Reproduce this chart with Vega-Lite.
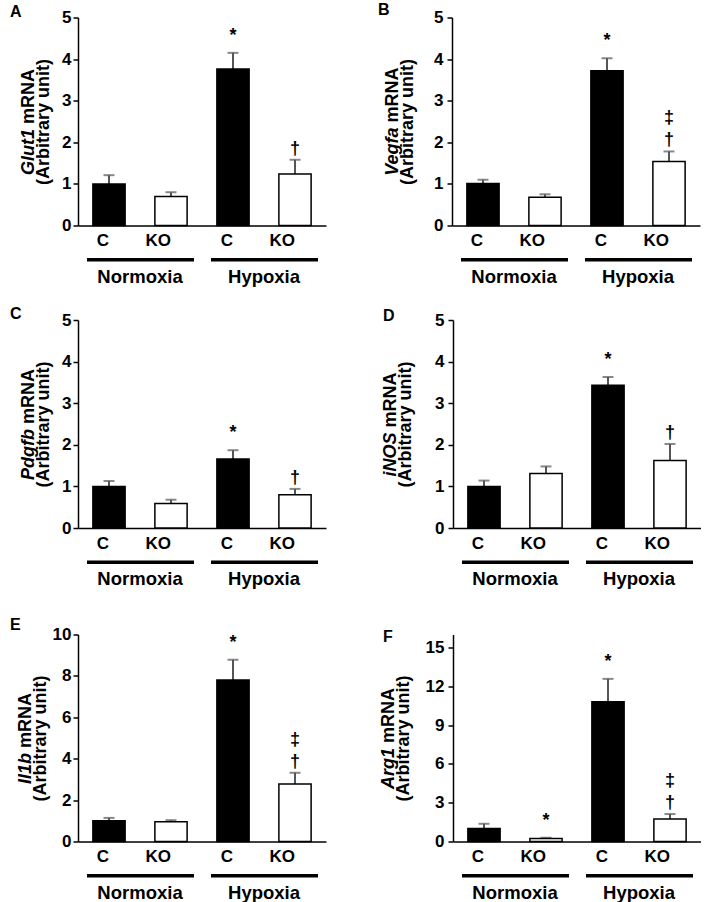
{
  "$schema": "https://vega.github.io/schema/vega-lite/v6.json",
  "padding": {"left": 10, "top": 1.5, "right": 0, "bottom": 0},
  "datasets": {
    "d": [
      {"panel": "A", "cond": "N-C", "geno": "C", "group": "Normoxia", "mean": 1.0, "upper": 1.21},
      {"panel": "A", "cond": "N-KO", "geno": "KO", "group": "Normoxia", "mean": 0.7, "upper": 0.8},
      {"panel": "A", "cond": "H-C", "geno": "C", "group": "Hypoxia", "mean": 3.76, "upper": 4.15, "star": "*"},
      {"panel": "A", "cond": "H-KO", "geno": "KO", "group": "Hypoxia", "mean": 1.24, "upper": 1.58, "dag": "†"},
      {"panel": "B", "cond": "N-C", "geno": "C", "group": "Normoxia", "mean": 1.01, "upper": 1.1},
      {"panel": "B", "cond": "N-KO", "geno": "KO", "group": "Normoxia", "mean": 0.68, "upper": 0.75},
      {"panel": "B", "cond": "H-C", "geno": "C", "group": "Hypoxia", "mean": 3.72, "upper": 4.02, "star": "*"},
      {"panel": "B", "cond": "H-KO", "geno": "KO", "group": "Hypoxia", "mean": 1.54, "upper": 1.78, "dag": "†", "ddag": "‡"},
      {"panel": "C", "cond": "N-C", "geno": "C", "group": "Normoxia", "mean": 1.0, "upper": 1.13},
      {"panel": "C", "cond": "N-KO", "geno": "KO", "group": "Normoxia", "mean": 0.59, "upper": 0.68},
      {"panel": "C", "cond": "H-C", "geno": "C", "group": "Hypoxia", "mean": 1.66, "upper": 1.87, "star": "*"},
      {"panel": "C", "cond": "H-KO", "geno": "KO", "group": "Hypoxia", "mean": 0.8, "upper": 0.94, "dag": "†"},
      {"panel": "D", "cond": "N-C", "geno": "C", "group": "Normoxia", "mean": 1.0, "upper": 1.14},
      {"panel": "D", "cond": "N-KO", "geno": "KO", "group": "Normoxia", "mean": 1.31, "upper": 1.48},
      {"panel": "D", "cond": "H-C", "geno": "C", "group": "Hypoxia", "mean": 3.43, "upper": 3.63, "star": "*"},
      {"panel": "D", "cond": "H-KO", "geno": "KO", "group": "Hypoxia", "mean": 1.62, "upper": 2.02, "dag": "†"},
      {"panel": "E", "cond": "N-C", "geno": "C", "group": "Normoxia", "mean": 1.0, "upper": 1.14},
      {"panel": "E", "cond": "N-KO", "geno": "KO", "group": "Normoxia", "mean": 0.96, "upper": 1.03},
      {"panel": "E", "cond": "H-C", "geno": "C", "group": "Hypoxia", "mean": 7.8, "upper": 8.78, "star": "*"},
      {"panel": "E", "cond": "H-KO", "geno": "KO", "group": "Hypoxia", "mean": 2.78, "upper": 3.32, "dag": "†", "ddag": "‡"},
      {"panel": "F", "cond": "N-C", "geno": "C", "group": "Normoxia", "mean": 1.01, "upper": 1.37},
      {"panel": "F", "cond": "N-KO", "geno": "KO", "group": "Normoxia", "mean": 0.24, "upper": 0.29, "star": "*"},
      {"panel": "F", "cond": "H-C", "geno": "C", "group": "Hypoxia", "mean": 10.81, "upper": 12.57, "star": "*"},
      {"panel": "F", "cond": "H-KO", "geno": "KO", "group": "Hypoxia", "mean": 1.73, "upper": 2.12, "dag": "†", "ddag": "‡"}
    ]
  },
  "data": {"name": "d"},
  "spacing": -1,
  "vconcat": [
    {
      "spacing": -9.5,
      "vconcat": [
        {
          "spacing": 52,
          "hconcat": [
            {
              "width": 248, "height": 208,
              "title": {"text": "A", "dx": -68, "dy": 15.5},
              "transform": [{"filter": "datum.panel == 'A'"}],
              "layer": [
                {"layer": [
                  {"mark": {"type": "rule", "color": "#555555", "strokeWidth": 2},
                   "encoding": {"x": {"field": "cond", "type": "nominal", "sort": ["N-C", "N-KO", "H-C", "H-KO"]},
                                "y": {"field": "mean", "type": "quantitative", "axis": {"orient": "left", "title": "Glut1", "titleFontStyle": "italic", "labels": false, "ticks": false, "domain": false, "titleX": -41, "titleY": 111, "titleAngle": -90, "titleAlign": "right", "titleBaseline": "bottom"}},
                                "y2": {"field": "upper"}}},
                  {"mark": {"type": "tick", "orient": "horizontal", "color": "#555555", "thickness": 2, "size": 11},
                   "encoding": {"x": {"field": "cond", "type": "nominal", "sort": ["N-C", "N-KO", "H-C", "H-KO"]},
                                "y": {"field": "upper", "type": "quantitative", "axis": {"orient": "left", "title": "mRNA", "labels": false, "ticks": false, "domain": false, "titleX": -41, "titleY": 106, "titleAngle": -90, "titleAlign": "left", "titleBaseline": "bottom"}}}},
                  {"mark": {"type": "bar", "stroke": "black", "strokeWidth": 1.5},
                   "encoding": {
                     "x": {"field": "cond", "type": "nominal", "sort": ["N-C", "N-KO", "H-C", "H-KO"], "scale": {"paddingInner": 0.48, "paddingOuter": 0.24},
                           "axis": {"title": null, "labelExpr": "split(datum.label, '-')[1]", "ticks": false, "domainWidth": 1.5, "labelFontSize": 17, "labelPadding": 15, "labelAngle": 0}},
                     "y": {"field": "mean", "type": "quantitative", "scale": {"domain": [0, 5]},
                           "axis": {"orient": "left", "title": "(Arbitrary unit)", "values": [0, 1, 2, 3, 4, 5], "labelPadding": 2, "titleX": -26, "titleY": 104, "titleAngle": -90, "titleAlign": "center", "titleBaseline": "bottom"}},
                     "fill": {"field": "geno", "type": "nominal", "scale": {"domain": ["C", "KO"], "range": ["black", "white"]}, "legend": null}
                   }},
                  {"transform": [{"filter": "datum.star"}], "mark": {"type": "text", "baseline": "bottom", "dy": -8, "fontSize": 18, "fontWeight": "bold"},
                   "encoding": {"x": {"field": "cond", "type": "nominal", "sort": ["N-C", "N-KO", "H-C", "H-KO"]}, "y": {"field": "upper", "type": "quantitative", "axis": null}, "text": {"field": "star"}}},
                  {"transform": [{"filter": "datum.dag"}], "mark": {"type": "text", "baseline": "bottom", "dy": -2, "fontSize": 18, "fontWeight": "bold"},
                   "encoding": {"x": {"field": "cond", "type": "nominal", "sort": ["N-C", "N-KO", "H-C", "H-KO"]}, "y": {"field": "upper", "type": "quantitative", "axis": null}, "text": {"field": "dag"}}}
                ], "resolve": {"axis": {"y": "independent"}}},
                {"mark": {"type": "bar", "opacity": 0},
                 "encoding": {
                   "x": {"field": "group", "type": "nominal", "sort": ["Normoxia", "Hypoxia"], "scale": {"paddingInner": 0, "paddingOuter": 0},
                         "axis": {"orient": "bottom", "offset": 32, "domain": false, "tickSize": 3.5, "tickWidth": 107, "tickCap": "butt", "labelFontSize": 18.5, "labelPadding": 6, "title": null, "labelAngle": 0}},
                   "y": {"field": "mean", "type": "quantitative", "axis": null}
                 }}
              ],
              "resolve": {"scale": {"x": "independent"}, "axis": {"x": "independent"}}
            },
            {
              "width": 248, "height": 208,
              "title": {"text": "B", "dx": -74, "dy": 15.5},
              "transform": [{"filter": "datum.panel == 'B'"}],
              "layer": [
                {"layer": [
                  {"mark": {"type": "rule", "color": "#555555", "strokeWidth": 2},
                   "encoding": {"x": {"field": "cond", "type": "nominal", "sort": ["N-C", "N-KO", "H-C", "H-KO"]},
                                "y": {"field": "mean", "type": "quantitative", "axis": {"orient": "left", "title": "Vegfa", "titleFontStyle": "italic", "labels": false, "ticks": false, "domain": false, "titleX": -51, "titleY": 109.5, "titleAngle": -90, "titleAlign": "right", "titleBaseline": "bottom"}},
                                "y2": {"field": "upper"}}},
                  {"mark": {"type": "tick", "orient": "horizontal", "color": "#555555", "thickness": 2, "size": 11},
                   "encoding": {"x": {"field": "cond", "type": "nominal", "sort": ["N-C", "N-KO", "H-C", "H-KO"]},
                                "y": {"field": "upper", "type": "quantitative", "axis": {"orient": "left", "title": "mRNA", "labels": false, "ticks": false, "domain": false, "titleX": -51, "titleY": 104.5, "titleAngle": -90, "titleAlign": "left", "titleBaseline": "bottom"}}}},
                  {"mark": {"type": "bar", "stroke": "black", "strokeWidth": 1.5},
                   "encoding": {
                     "x": {"field": "cond", "type": "nominal", "sort": ["N-C", "N-KO", "H-C", "H-KO"], "scale": {"paddingInner": 0.48, "paddingOuter": 0.24},
                           "axis": {"title": null, "labelExpr": "split(datum.label, '-')[1]", "ticks": false, "domainWidth": 1.5, "labelFontSize": 17, "labelPadding": 15, "labelAngle": 0}},
                     "y": {"field": "mean", "type": "quantitative", "scale": {"domain": [0, 5]},
                           "axis": {"orient": "left", "title": "(Arbitrary unit)", "values": [0, 1, 2, 3, 4, 5], "labelPadding": 4, "titleX": -36, "titleY": 104, "titleAngle": -90, "titleAlign": "center", "titleBaseline": "bottom"}},
                     "fill": {"field": "geno", "type": "nominal", "scale": {"domain": ["C", "KO"], "range": ["black", "white"]}, "legend": null}
                   }},
                  {"transform": [{"filter": "datum.star"}], "mark": {"type": "text", "baseline": "bottom", "dy": -8, "fontSize": 18, "fontWeight": "bold"},
                   "encoding": {"x": {"field": "cond", "type": "nominal", "sort": ["N-C", "N-KO", "H-C", "H-KO"]}, "y": {"field": "upper", "type": "quantitative", "axis": null}, "text": {"field": "star"}}},
                  {"transform": [{"filter": "datum.dag"}], "mark": {"type": "text", "baseline": "bottom", "dy": -2, "fontSize": 18, "fontWeight": "bold"},
                   "encoding": {"x": {"field": "cond", "type": "nominal", "sort": ["N-C", "N-KO", "H-C", "H-KO"]}, "y": {"field": "upper", "type": "quantitative", "axis": null}, "text": {"field": "dag"}}},
                  {"transform": [{"filter": "datum.ddag"}], "mark": {"type": "text", "baseline": "bottom", "dy": -24, "fontSize": 18, "fontWeight": "bold"},
                   "encoding": {"x": {"field": "cond", "type": "nominal", "sort": ["N-C", "N-KO", "H-C", "H-KO"]}, "y": {"field": "upper", "type": "quantitative", "axis": null}, "text": {"field": "ddag"}}}
                ], "resolve": {"axis": {"y": "independent"}}},
                {"mark": {"type": "bar", "opacity": 0},
                 "encoding": {
                   "x": {"field": "group", "type": "nominal", "sort": ["Normoxia", "Hypoxia"], "scale": {"paddingInner": 0, "paddingOuter": 0},
                         "axis": {"orient": "bottom", "offset": 32, "domain": false, "tickSize": 3.5, "tickWidth": 107, "tickCap": "butt", "labelFontSize": 18.5, "labelPadding": 6, "title": null, "labelAngle": 0}},
                   "y": {"field": "mean", "type": "quantitative", "axis": null}
                 }}
              ],
              "resolve": {"scale": {"x": "independent"}, "axis": {"x": "independent"}}
            }
          ]
        },
        {
          "spacing": 55,
          "hconcat": [
            {
              "width": 248, "height": 208,
              "title": {"text": "C", "dx": -68, "dy": 14.5},
              "transform": [{"filter": "datum.panel == 'C'"}],
              "layer": [
                {"layer": [
                  {"mark": {"type": "rule", "color": "#555555", "strokeWidth": 2},
                   "encoding": {"x": {"field": "cond", "type": "nominal", "sort": ["N-C", "N-KO", "H-C", "H-KO"]},
                                "y": {"field": "mean", "type": "quantitative", "axis": {"orient": "left", "title": "Pdgfb", "titleFontStyle": "italic", "labels": false, "ticks": false, "domain": false, "titleX": -41, "titleY": 108.5, "titleAngle": -90, "titleAlign": "right", "titleBaseline": "bottom"}},
                                "y2": {"field": "upper"}}},
                  {"mark": {"type": "tick", "orient": "horizontal", "color": "#555555", "thickness": 2, "size": 11},
                   "encoding": {"x": {"field": "cond", "type": "nominal", "sort": ["N-C", "N-KO", "H-C", "H-KO"]},
                                "y": {"field": "upper", "type": "quantitative", "axis": {"orient": "left", "title": "mRNA", "labels": false, "ticks": false, "domain": false, "titleX": -41, "titleY": 103.5, "titleAngle": -90, "titleAlign": "left", "titleBaseline": "bottom"}}}},
                  {"mark": {"type": "bar", "stroke": "black", "strokeWidth": 1.5},
                   "encoding": {
                     "x": {"field": "cond", "type": "nominal", "sort": ["N-C", "N-KO", "H-C", "H-KO"], "scale": {"paddingInner": 0.48, "paddingOuter": 0.24},
                           "axis": {"title": null, "labelExpr": "split(datum.label, '-')[1]", "ticks": false, "domainWidth": 1.5, "labelFontSize": 17, "labelPadding": 15, "labelAngle": 0}},
                     "y": {"field": "mean", "type": "quantitative", "scale": {"domain": [0, 5]},
                           "axis": {"orient": "left", "title": "(Arbitrary unit)", "values": [0, 1, 2, 3, 4, 5], "labelPadding": 2, "titleX": -26, "titleY": 104, "titleAngle": -90, "titleAlign": "center", "titleBaseline": "bottom"}},
                     "fill": {"field": "geno", "type": "nominal", "scale": {"domain": ["C", "KO"], "range": ["black", "white"]}, "legend": null}
                   }},
                  {"transform": [{"filter": "datum.star"}], "mark": {"type": "text", "baseline": "bottom", "dy": -8, "fontSize": 18, "fontWeight": "bold"},
                   "encoding": {"x": {"field": "cond", "type": "nominal", "sort": ["N-C", "N-KO", "H-C", "H-KO"]}, "y": {"field": "upper", "type": "quantitative", "axis": null}, "text": {"field": "star"}}},
                  {"transform": [{"filter": "datum.dag"}], "mark": {"type": "text", "baseline": "bottom", "dy": -2, "fontSize": 18, "fontWeight": "bold"},
                   "encoding": {"x": {"field": "cond", "type": "nominal", "sort": ["N-C", "N-KO", "H-C", "H-KO"]}, "y": {"field": "upper", "type": "quantitative", "axis": null}, "text": {"field": "dag"}}}
                ], "resolve": {"axis": {"y": "independent"}}},
                {"mark": {"type": "bar", "opacity": 0},
                 "encoding": {
                   "x": {"field": "group", "type": "nominal", "sort": ["Normoxia", "Hypoxia"], "scale": {"paddingInner": 0, "paddingOuter": 0},
                         "axis": {"orient": "bottom", "offset": 32, "domain": false, "tickSize": 3.5, "tickWidth": 107, "tickCap": "butt", "labelFontSize": 18.5, "labelPadding": 6, "title": null, "labelAngle": 0}},
                   "y": {"field": "mean", "type": "quantitative", "axis": null}
                 }}
              ],
              "resolve": {"scale": {"x": "independent"}, "axis": {"x": "independent"}}
            },
            {
              "width": 248, "height": 208,
              "title": {"text": "D", "dx": -70, "dy": 16.5},
              "transform": [{"filter": "datum.panel == 'D'"}],
              "layer": [
                {"layer": [
                  {"mark": {"type": "rule", "color": "#555555", "strokeWidth": 2},
                   "encoding": {"x": {"field": "cond", "type": "nominal", "sort": ["N-C", "N-KO", "H-C", "H-KO"]},
                                "y": {"field": "mean", "type": "quantitative", "axis": {"orient": "left", "title": "iNOS", "titleFontStyle": "italic", "labels": false, "ticks": false, "domain": false, "titleX": -54, "titleY": 112, "titleAngle": -90, "titleAlign": "right", "titleBaseline": "bottom"}},
                                "y2": {"field": "upper"}}},
                  {"mark": {"type": "tick", "orient": "horizontal", "color": "#555555", "thickness": 2, "size": 11},
                   "encoding": {"x": {"field": "cond", "type": "nominal", "sort": ["N-C", "N-KO", "H-C", "H-KO"]},
                                "y": {"field": "upper", "type": "quantitative", "axis": {"orient": "left", "title": "mRNA", "labels": false, "ticks": false, "domain": false, "titleX": -54, "titleY": 107, "titleAngle": -90, "titleAlign": "left", "titleBaseline": "bottom"}}}},
                  {"mark": {"type": "bar", "stroke": "black", "strokeWidth": 1.5},
                   "encoding": {
                     "x": {"field": "cond", "type": "nominal", "sort": ["N-C", "N-KO", "H-C", "H-KO"], "scale": {"paddingInner": 0.48, "paddingOuter": 0.24},
                           "axis": {"title": null, "labelExpr": "split(datum.label, '-')[1]", "ticks": false, "domainWidth": 1.5, "labelFontSize": 17, "labelPadding": 15, "labelAngle": 0}},
                     "y": {"field": "mean", "type": "quantitative", "scale": {"domain": [0, 5]},
                           "axis": {"orient": "left", "title": "(Arbitrary unit)", "values": [0, 1, 2, 3, 4, 5], "labelPadding": 4, "titleX": -39, "titleY": 104, "titleAngle": -90, "titleAlign": "center", "titleBaseline": "bottom"}},
                     "fill": {"field": "geno", "type": "nominal", "scale": {"domain": ["C", "KO"], "range": ["black", "white"]}, "legend": null}
                   }},
                  {"transform": [{"filter": "datum.star"}], "mark": {"type": "text", "baseline": "bottom", "dy": -8, "fontSize": 18, "fontWeight": "bold"},
                   "encoding": {"x": {"field": "cond", "type": "nominal", "sort": ["N-C", "N-KO", "H-C", "H-KO"]}, "y": {"field": "upper", "type": "quantitative", "axis": null}, "text": {"field": "star"}}},
                  {"transform": [{"filter": "datum.dag"}], "mark": {"type": "text", "baseline": "bottom", "dy": -2, "fontSize": 18, "fontWeight": "bold"},
                   "encoding": {"x": {"field": "cond", "type": "nominal", "sort": ["N-C", "N-KO", "H-C", "H-KO"]}, "y": {"field": "upper", "type": "quantitative", "axis": null}, "text": {"field": "dag"}}}
                ], "resolve": {"axis": {"y": "independent"}}},
                {"mark": {"type": "bar", "opacity": 0},
                 "encoding": {
                   "x": {"field": "group", "type": "nominal", "sort": ["Normoxia", "Hypoxia"], "scale": {"paddingInner": 0, "paddingOuter": 0},
                         "axis": {"orient": "bottom", "offset": 32, "domain": false, "tickSize": 3.5, "tickWidth": 107, "tickCap": "butt", "labelFontSize": 18.5, "labelPadding": 6, "title": null, "labelAngle": 0}},
                   "y": {"field": "mean", "type": "quantitative", "axis": null}
                 }}
              ],
              "resolve": {"scale": {"x": "independent"}, "axis": {"x": "independent"}}
            }
          ]
        }
      ]
    },
    {
      "spacing": 53,
      "hconcat": [
        {
          "width": 248, "height": 207,
          "title": {"text": "E", "dx": -68, "dy": 14.5},
          "transform": [{"filter": "datum.panel == 'E'"}],
          "layer": [
            {"layer": [
              {"mark": {"type": "rule", "color": "#555555", "strokeWidth": 2},
               "encoding": {"x": {"field": "cond", "type": "nominal", "sort": ["N-C", "N-KO", "H-C", "H-KO"]},
                            "y": {"field": "mean", "type": "quantitative", "axis": {"orient": "left", "title": "Il1b", "titleFontStyle": "italic", "labels": false, "ticks": false, "domain": false, "titleX": -44, "titleY": 118, "titleAngle": -90, "titleAlign": "right", "titleBaseline": "bottom"}},
                            "y2": {"field": "upper"}}},
              {"mark": {"type": "tick", "orient": "horizontal", "color": "#555555", "thickness": 2, "size": 11},
               "encoding": {"x": {"field": "cond", "type": "nominal", "sort": ["N-C", "N-KO", "H-C", "H-KO"]},
                            "y": {"field": "upper", "type": "quantitative", "axis": {"orient": "left", "title": "mRNA", "labels": false, "ticks": false, "domain": false, "titleX": -44, "titleY": 113, "titleAngle": -90, "titleAlign": "left", "titleBaseline": "bottom"}}}},
              {"mark": {"type": "bar", "stroke": "black", "strokeWidth": 1.5},
               "encoding": {
                 "x": {"field": "cond", "type": "nominal", "sort": ["N-C", "N-KO", "H-C", "H-KO"], "scale": {"paddingInner": 0.48, "paddingOuter": 0.24},
                       "axis": {"title": null, "labelExpr": "split(datum.label, '-')[1]", "ticks": false, "domainWidth": 1.5, "labelFontSize": 17, "labelPadding": 15, "labelAngle": 0}},
                 "y": {"field": "mean", "type": "quantitative", "scale": {"domain": [0, 10]},
                       "axis": {"orient": "left", "title": "(Arbitrary unit)", "values": [0, 2, 4, 6, 8, 10], "labelPadding": 2, "titleX": -29, "titleY": 103.5, "titleAngle": -90, "titleAlign": "center", "titleBaseline": "bottom"}},
                 "fill": {"field": "geno", "type": "nominal", "scale": {"domain": ["C", "KO"], "range": ["black", "white"]}, "legend": null}
               }},
              {"transform": [{"filter": "datum.star"}], "mark": {"type": "text", "baseline": "bottom", "dy": -8, "fontSize": 18, "fontWeight": "bold"},
               "encoding": {"x": {"field": "cond", "type": "nominal", "sort": ["N-C", "N-KO", "H-C", "H-KO"]}, "y": {"field": "upper", "type": "quantitative", "axis": null}, "text": {"field": "star"}}},
              {"transform": [{"filter": "datum.dag"}], "mark": {"type": "text", "baseline": "bottom", "dy": -2, "fontSize": 18, "fontWeight": "bold"},
               "encoding": {"x": {"field": "cond", "type": "nominal", "sort": ["N-C", "N-KO", "H-C", "H-KO"]}, "y": {"field": "upper", "type": "quantitative", "axis": null}, "text": {"field": "dag"}}},
              {"transform": [{"filter": "datum.ddag"}], "mark": {"type": "text", "baseline": "bottom", "dy": -24, "fontSize": 18, "fontWeight": "bold"},
               "encoding": {"x": {"field": "cond", "type": "nominal", "sort": ["N-C", "N-KO", "H-C", "H-KO"]}, "y": {"field": "upper", "type": "quantitative", "axis": null}, "text": {"field": "ddag"}}}
            ], "resolve": {"axis": {"y": "independent"}}},
            {"mark": {"type": "bar", "opacity": 0},
             "encoding": {
               "x": {"field": "group", "type": "nominal", "sort": ["Normoxia", "Hypoxia"], "scale": {"paddingInner": 0, "paddingOuter": 0},
                     "axis": {"orient": "bottom", "offset": 32, "domain": false, "tickSize": 3.5, "tickWidth": 107, "tickCap": "butt", "labelFontSize": 18.5, "labelPadding": 6, "title": null, "labelAngle": 0}},
               "y": {"field": "mean", "type": "quantitative", "axis": null}
             }}
          ],
          "resolve": {"scale": {"x": "independent"}, "axis": {"x": "independent"}}
        },
        {
          "width": 248, "height": 207,
          "title": {"text": "F", "dx": -70, "dy": 14.5},
          "transform": [{"filter": "datum.panel == 'F'"}],
          "layer": [
            {"layer": [
              {"mark": {"type": "rule", "color": "#555555", "strokeWidth": 2},
               "encoding": {"x": {"field": "cond", "type": "nominal", "sort": ["N-C", "N-KO", "H-C", "H-KO"]},
                            "y": {"field": "mean", "type": "quantitative", "axis": {"orient": "left", "title": "Arg1", "titleFontStyle": "italic", "labels": false, "ticks": false, "domain": false, "titleX": -56, "titleY": 113, "titleAngle": -90, "titleAlign": "right", "titleBaseline": "bottom"}},
                            "y2": {"field": "upper"}}},
              {"mark": {"type": "tick", "orient": "horizontal", "color": "#555555", "thickness": 2, "size": 11},
               "encoding": {"x": {"field": "cond", "type": "nominal", "sort": ["N-C", "N-KO", "H-C", "H-KO"]},
                            "y": {"field": "upper", "type": "quantitative", "axis": {"orient": "left", "title": "mRNA", "labels": false, "ticks": false, "domain": false, "titleX": -56, "titleY": 108, "titleAngle": -90, "titleAlign": "left", "titleBaseline": "bottom"}}}},
              {"mark": {"type": "bar", "stroke": "black", "strokeWidth": 1.5},
               "encoding": {
                 "x": {"field": "cond", "type": "nominal", "sort": ["N-C", "N-KO", "H-C", "H-KO"], "scale": {"paddingInner": 0.48, "paddingOuter": 0.24},
                       "axis": {"title": null, "labelExpr": "split(datum.label, '-')[1]", "ticks": false, "domainWidth": 1.5, "labelFontSize": 17, "labelPadding": 15, "labelAngle": 0}},
                 "y": {"field": "mean", "type": "quantitative", "scale": {"domain": [0, 15]},
                       "axis": {"orient": "left", "title": "(Arbitrary unit)", "values": [0, 3, 6, 9, 12, 15], "labelPadding": 4, "titleX": -41, "titleY": 103.5, "titleAngle": -90, "titleAlign": "center", "titleBaseline": "bottom"}},
                 "fill": {"field": "geno", "type": "nominal", "scale": {"domain": ["C", "KO"], "range": ["black", "white"]}, "legend": null}
               }},
              {"transform": [{"filter": "datum.star"}], "mark": {"type": "text", "baseline": "bottom", "dy": -8, "fontSize": 18, "fontWeight": "bold"},
               "encoding": {"x": {"field": "cond", "type": "nominal", "sort": ["N-C", "N-KO", "H-C", "H-KO"]}, "y": {"field": "upper", "type": "quantitative", "axis": null}, "text": {"field": "star"}}},
              {"transform": [{"filter": "datum.dag"}], "mark": {"type": "text", "baseline": "bottom", "dy": -2, "fontSize": 18, "fontWeight": "bold"},
               "encoding": {"x": {"field": "cond", "type": "nominal", "sort": ["N-C", "N-KO", "H-C", "H-KO"]}, "y": {"field": "upper", "type": "quantitative", "axis": null}, "text": {"field": "dag"}}},
              {"transform": [{"filter": "datum.ddag"}], "mark": {"type": "text", "baseline": "bottom", "dy": -24, "fontSize": 18, "fontWeight": "bold"},
               "encoding": {"x": {"field": "cond", "type": "nominal", "sort": ["N-C", "N-KO", "H-C", "H-KO"]}, "y": {"field": "upper", "type": "quantitative", "axis": null}, "text": {"field": "ddag"}}}
            ], "resolve": {"axis": {"y": "independent"}}},
            {"mark": {"type": "bar", "opacity": 0},
             "encoding": {
               "x": {"field": "group", "type": "nominal", "sort": ["Normoxia", "Hypoxia"], "scale": {"paddingInner": 0, "paddingOuter": 0},
                     "axis": {"orient": "bottom", "offset": 32, "domain": false, "tickSize": 3.5, "tickWidth": 107, "tickCap": "butt", "labelFontSize": 18.5, "labelPadding": 6, "title": null, "labelAngle": 0}},
               "y": {"field": "mean", "type": "quantitative", "axis": null}
             }}
          ],
          "resolve": {"scale": {"x": "independent"}, "axis": {"x": "independent"}}
        }
      ]
    }
  ],
  "config": {
    "font": "Liberation Sans",
    "view": {"stroke": null},
    "axis": {
      "labelFont": "Liberation Sans", "labelFontWeight": "bold", "labelColor": "black",
      "titleFont": "Liberation Sans", "titleFontWeight": "bold", "titleColor": "black",
      "domainColor": "black", "tickColor": "black", "grid": false
    },
    "axisY": {"domainWidth": 1.5, "tickWidth": 1.5, "tickSize": 5, "labelFontSize": 17, "titleFontSize": 18},
    "title": {"fontSize": 16, "fontWeight": "bold", "anchor": "start", "frame": "group", "color": "black", "offset": 0, "font": "Liberation Sans"}
  }
}
